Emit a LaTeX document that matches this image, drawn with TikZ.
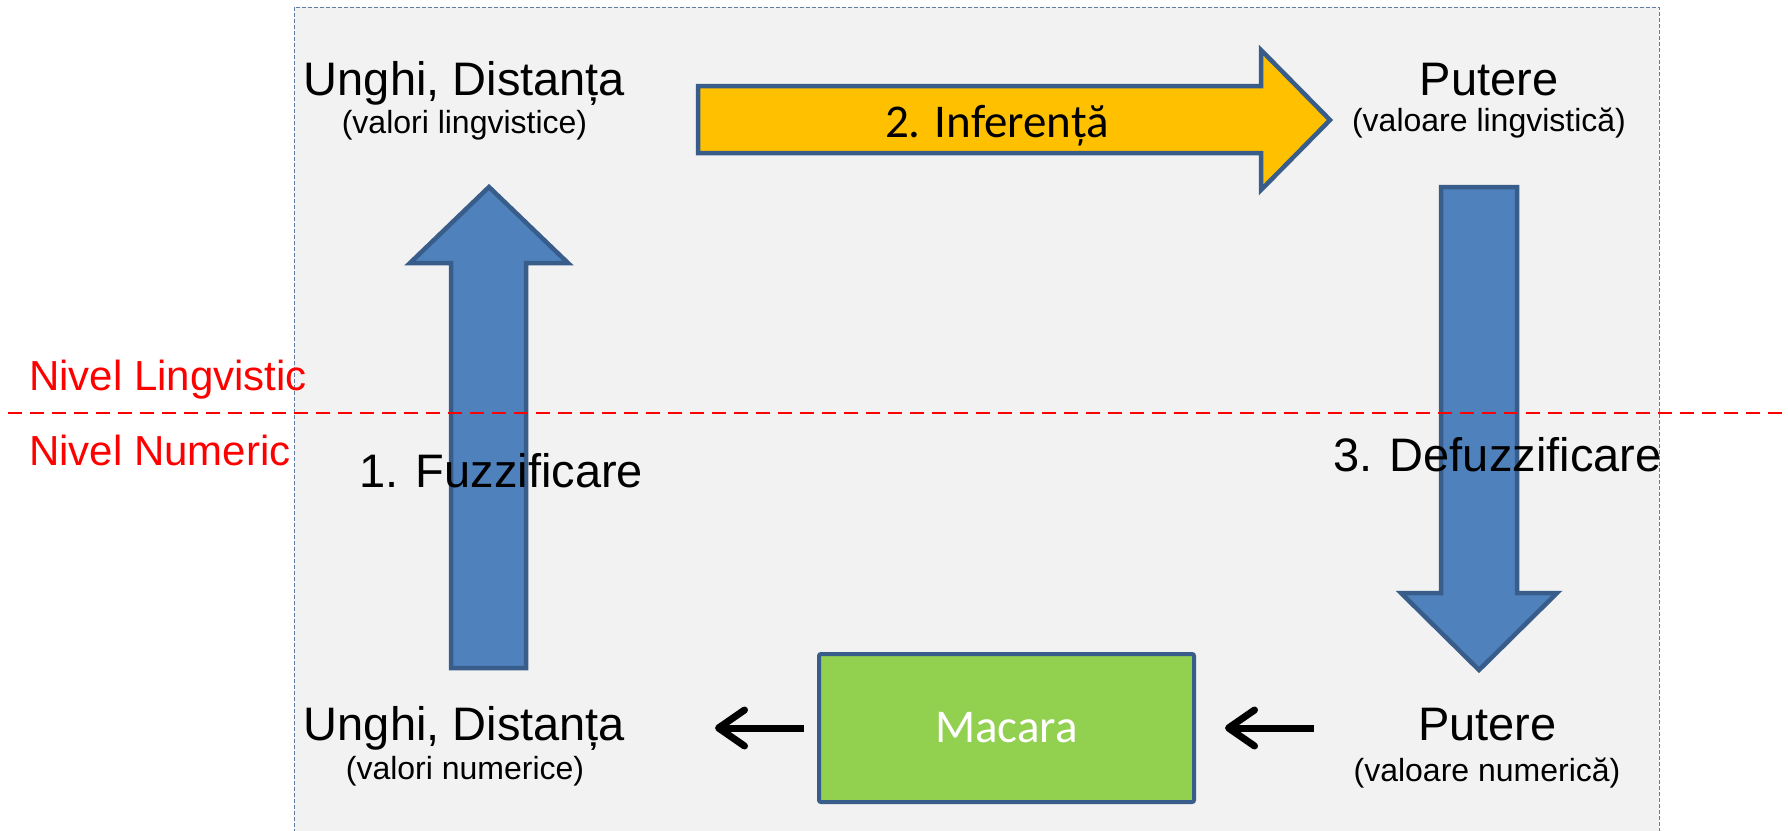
\documentclass[tikz,border=0pt]{standalone}
\usepackage{fontspec}
\setmainfont{Liberation Sans}
\newfontfamily\calib{Carlito}
\usetikzlibrary{arrows.meta}
\definecolor{bgray}{HTML}{F2F2F2}
\definecolor{bblue}{HTML}{4F81BD}
\definecolor{bline}{HTML}{385D8A}
\definecolor{borange}{HTML}{FFC000}
\definecolor{bgreen}{HTML}{92D050}
\definecolor{bred}{HTML}{FF0000}
\tikzset{
  bigtxt/.style={font=\fontsize{47}{56}\selectfont, inner sep=0pt, anchor=base},
  subtxt/.style={font=\fontsize{32}{38}\selectfont, inner sep=0pt, anchor=base},
  redtxt/.style={font=\fontsize{42}{50}\selectfont, text=bred, inner sep=0pt, anchor=base west},
  blockarrow/.style={draw=bline, line width=4.5pt, line join=miter},
  blkarr/.style={draw=black, line width=7pt, -{Straight Barb[length=26pt,width=36pt,round]}},
  plantbox/.style={draw=bline, fill=bgreen, line width=4pt, rounded corners=2pt, minimum width=375pt, minimum height=148pt, inner sep=0pt, text=white, font=\calib\fontsize{47}{56}\selectfont},
}
\begin{document}
\begin{tikzpicture}[x=1pt,y=-1pt]
\useasboundingbox (0,0) rectangle (1788,830);
% background panel
\fill[bgray] (294,7) rectangle (1659,845);
\draw[bline!80, line width=1pt, dash pattern=on 4pt off 2pt] (294,845) -- (294,7) -- (1659,7) -- (1659,845);
% block arrows
\filldraw[blockarrow, fill=borange] (698,86) -- (1261,86) -- (1261,50) -- (1330,120) -- (1261,190) -- (1261,153) -- (698,153) -- cycle;
\filldraw[blockarrow, fill=bblue] (451,668) -- (451,263) -- (410,263) -- (489,187) -- (568,263) -- (526,263) -- (526,668) -- cycle;
\filldraw[blockarrow, fill=bblue] (1441,187) -- (1517,187) -- (1517,593) -- (1557,593) -- (1479,670) -- (1401,593) -- (1441,593) -- cycle;
% labels
\node[bigtxt] (udtop) at (464.5,95) {Unghi, Distanța};
\node[subtxt] (udtopsub) at (464.5,133) {(valori lingvistice)};
\node[bigtxt] (puttop) at (1489,95) {Putere};
\node[subtxt] (puttopsub) at (1489,131) {(valoare lingvistică)};
\node[bigtxt] (udbot) at (464.5,740) {Unghi, Distanța};
\node[subtxt] (udbotsub) at (465,779) {(valori numerice)};
\node[bigtxt] (putbot) at (1487.5,740) {Putere};
\node[subtxt] (putbotsub) at (1487,781) {(valoare numerică)};
\node[font=\calib\fontsize{47}{56}\selectfont, inner sep=0pt, anchor=base] (infer) at (997,137) {2. Inferență};
\node[bigtxt, anchor=base west] (fuzz) at (359,487) {1. Fuzzificare};
\node[bigtxt, anchor=base west] (defuzz) at (1333,471) {3. Defuzzificare};
% level separator
\draw[bred, line width=2pt, dash pattern=on 14pt off 8pt] (8,413) -- (1788,413);
\node[redtxt] (nivling) at (29,390) {Nivel Lingvistic};
\node[redtxt] (nivnum) at (29,465) {Nivel Numeric};
% plant
\node[plantbox] (macara) at (1006.5,728) {Macara};
\coordinate (lefttip) at (715,728);
\coordinate (righttail) at (1314,728);
\draw[blkarr, shorten <=13pt] (macara.west) -- (lefttip);
\draw[blkarr, shorten >=29pt] (righttail) -- (macara.east);
\end{tikzpicture}
\end{document}
